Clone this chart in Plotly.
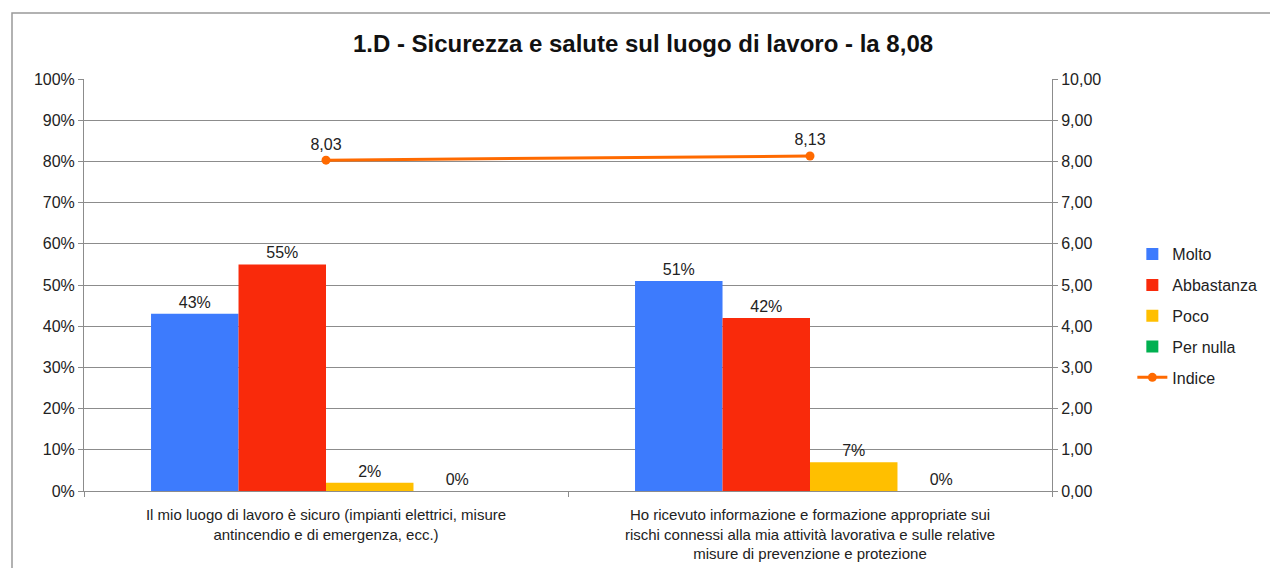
import plotly.graph_objects as go

categories = [
    "Il mio luogo di lavoro è sicuro (impianti elettrici, misure<br>antincendio e di emergenza, ecc.)",
    "Ho ricevuto informazione e formazione appropriate sui<br>rischi connessi alla mia attività lavorativa e sulle relative<br>misure di prevenzione e protezione",
]
molto = [43, 51]
abbastanza = [55, 42]
poco = [2, 7]
per_nulla = [0, 0]
indice = [8.03, 8.13]

left_ticks = list(range(0, 101, 10))
left_labels = [f"{v}%" for v in left_ticks]
right_ticks = list(range(0, 11))

font_family = "Liberation Sans, Arial, sans-serif"
grid_col = "#8c8c8c"
txt_col = "#222222"

fig = go.Figure()
bar_series = [
    ("Molto", molto, "#3D7BFD"),
    ("Abbastanza", abbastanza, "#F92A0B"),
    ("Poco", poco, "#FFBF00"),
    ("Per nulla", per_nulla, "#00B050"),
]
for name, vals, col in bar_series:
    fig.add_trace(go.Bar(
        x=categories, y=vals, name=name, marker_color=col, marker_line_width=0,
        text=[f"{v}%" for v in vals], texttemplate="%{text}", textposition="outside",
        textfont=dict(size=16, color=txt_col, family=font_family),
        cliponaxis=False, legendgroup=name,
    ))

fig.add_trace(go.Scatter(
    x=categories, y=indice, name="Indice", yaxis="y2", mode="lines+markers+text",
    line=dict(color="#FF6A00", width=3), marker=dict(color="#FF6A00", size=9),
    text=[f"{v:.2f}".replace(".", ",") for v in indice], texttemplate="%{text}",
    textposition="top center",
    textfont=dict(size=16, color=txt_col, family=font_family),
    cliponaxis=False, legendgroup="Indice",
))

fig.update_layout(
    width=1270, height=560,
    margin=dict(l=76, r=226, t=71, b=77, autoexpand=False),
    paper_bgcolor="white", plot_bgcolor="white",
    separators=",.",
    font=dict(family=font_family, size=15, color=txt_col),
    title=dict(text="<b>1.D - Sicurezza e salute sul luogo di lavoro - la 8,08</b>",
               x=0.5, xanchor="center", y=1 - 36 / 560, yanchor="middle",
               font=dict(size=24, color="#111111", family=font_family)),
    barmode="group", bargap=0.277, bargroupgap=0,
    showlegend=True,
    legend=dict(x=1.083, y=0.616, xanchor="left", yanchor="top",
                font=dict(size=16, family=font_family, color=txt_col),
                traceorder="grouped", tracegroupgap=7, bgcolor="rgba(0,0,0,0)"),
    xaxis=dict(showline=True, linecolor=grid_col, linewidth=1, ticks="outside",
               tickson="boundaries", tickcolor=grid_col, ticklen=5,
               ticklabelstandoff=10, automargin=False,
               tickfont=dict(size=15, color=txt_col), showgrid=False),
    yaxis=dict(range=[0, 100], tickvals=left_ticks, ticktext=left_labels,
               showgrid=True, gridcolor=grid_col, gridwidth=1,
               showline=True, linecolor=grid_col, linewidth=1,
               ticks="outside", tickcolor=grid_col, ticklen=5, automargin=False,
               tickfont=dict(size=16, color=txt_col), zeroline=False),
    yaxis2=dict(range=[0, 10], tickvals=right_ticks, tickformat=".2f",
                overlaying="y", side="right", showgrid=False,
                showline=True, linecolor=grid_col, linewidth=1,
                ticks="outside", tickcolor=grid_col, ticklen=5, automargin=False,
                tickfont=dict(size=16, color=txt_col), zeroline=False),
    shapes=[dict(type="rect", xref="paper", yref="paper",
                 x0=(12 - 84) / 968, x1=1.4, y0=-0.4, y1=(491 - 13) / 412,
                 line=dict(color="#999999", width=1.5), layer="below")],
)

fig.write_html("out.html")
